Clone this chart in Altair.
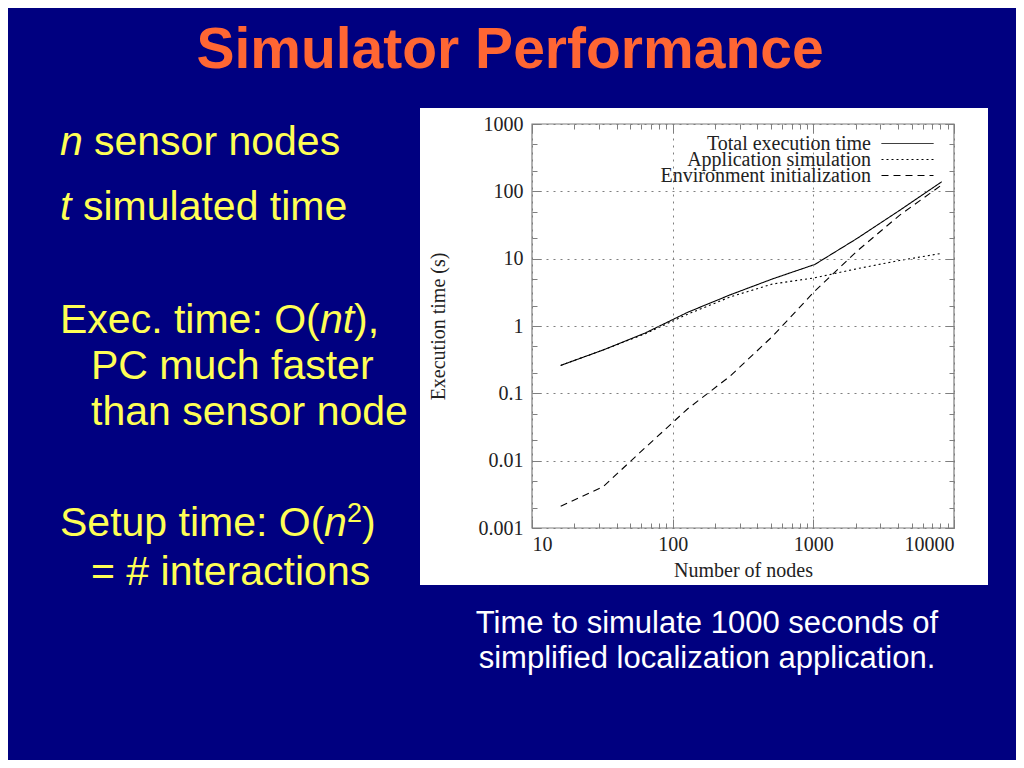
import altair as alt
import pandas as pd

# ---------------- data ----------------
nodes = [16, 32, 64, 128, 256, 512, 1024, 2048, 4096, 8192]
total_time = [0.26, 0.44, 0.79, 1.6, 2.9, 5.0, 8.2, 20, 52, 139]
app_time = [0.26, 0.44, 0.77, 1.5, 2.7, 4.2, 5.2, 7.1, 9.4, 12]
env_time = [0.0021, 0.0041, 0.0157, 0.059, 0.18, 0.7, 3.3, 13, 44, 125]
series_names = ["Total execution time", "Application simulation", "Environment initialization"]

x_major = [10, 100, 1000, 10000]
x_minor = [20, 30, 40, 50, 60, 70, 80, 90,
           200, 300, 400, 500, 600, 700, 800, 900,
           2000, 3000, 4000, 5000, 6000, 7000, 8000, 9000]
y_major = [0.001, 0.01, 0.1, 1, 10, 100, 1000]
y_minor = [0.002, 0.005, 0.02, 0.05, 0.2, 0.5, 2, 5, 20, 50, 200, 500]

slide_title = "Simulator Performance"
bullet1 = ["n", "sensor nodes"]
bullet2 = ["t", "simulated time"]
bullet3 = ["Exec. time: O(", "nt", "),", "PC much faster", "than sensor node"]
bullet4 = ["Setup time: O(", "n", "2", ")", "= # interactions"]
caption = ["Time to simulate 1000 seconds of", "simplified localization application."]

# ---------------- table ----------------
rows = []
for name, vals in zip(series_names, [total_time, app_time, env_time]):
    for n, v in zip(nodes, vals):
        rows.append({"n": n, "time": v, "series": name})
df = pd.DataFrame(rows)

W, H = 422, 404
NAVY = "#000080"
YEL = "#FFFF55"
GRAY = "#7f7f7f"
INK = "#222222"
SERIF = "Liberation Serif"
SANS = "Liberation Sans"
DASHES = [[1, 0], [2, 3], [7, 5]]
LEGEND_Y = [-7, 9, 25]


def xs():
    return alt.Scale(type="log", domain=[10, 10000], nice=False)


def ys():
    return alt.Scale(type="log", domain=[0.001, 1000], nice=False)


def tick_axis(orient, values, size, labels=False, grid=False, title=None, **kw):
    return alt.Axis(orient=orient, values=values, tickSize=size, offset=-size,
                    labels=labels, grid=grid, domain=False, title=title,
                    tickColor=GRAY, tickWidth=1, zindex=1, **kw)


common_lbl = dict(labelFont=SERIF, labelFontSize=20, labelColor=INK,
                  titleFont=SERIF, titleFontSize=20, titleColor=INK,
                  titleFontWeight="normal", format="~g")
grid_kw = dict(gridColor=GRAY, gridDash=[2, 5], gridWidth=1)

white_box = alt.Chart(pd.DataFrame({"k": [0]})).mark_rect(color="white").encode(
    x=alt.value(-112), x2=alt.value(456), y=alt.value(-16), y2=alt.value(461))

frame = alt.Chart(pd.DataFrame({"k": [0]})).mark_rect(
    fill="transparent", stroke=GRAY, strokeWidth=1.2).encode(
    x=alt.value(0), x2=alt.value("width"), y=alt.value(0), y2=alt.value("height"))

x_main_axis = tick_axis("bottom", x_major, 9, labels=True, grid=True,
                        title="Number of nodes", labelPadding=6, titlePadding=6,
                        **common_lbl, **grid_kw)
y_main_axis = tick_axis("left", y_major, 9, labels=True, grid=True,
                        title="Execution time (s)", labelPadding=9, titlePadding=30,
                        **common_lbl, **grid_kw)


def series_layer(i):
    name = series_names[i]
    return alt.Chart(df).transform_filter(alt.datum.series == name).mark_line(
        color="black", strokeWidth=1.1).encode(
        x=alt.X("n:Q", scale=xs(), axis=x_main_axis if i == 0 else None),
        y=alt.Y("time:Q", scale=ys(), axis=y_main_axis if i == 0 else None),
        strokeDash=alt.StrokeDash(
            "series:N",
            scale=alt.Scale(domain=[name], range=[DASHES[i]]),
            legend=alt.Legend(title=None, orient="none", legendX=349,
                              legendY=LEGEND_Y[i], symbolType="stroke",
                              symbolSize=2704, symbolStrokeWidth=1,
                              symbolStrokeColor="black", labelAlign="right",
                              labelOffset=alt.ExprRef("-63"), labelFont=SERIF,
                              labelFontSize=20, labelColor=INK, labelLimit=0,
                              padding=0, zindex=1)),
    )


def ghost(xaxis, yaxis):
    return alt.Chart(df).mark_point(opacity=0).encode(
        x=alt.X("n:Q", scale=xs(), axis=xaxis),
        y=alt.Y("time:Q", scale=ys(), axis=yaxis))


g_top = ghost(tick_axis("top", x_major, 9), tick_axis("right", y_major, 9))
g_minor1 = ghost(tick_axis("bottom", x_minor, 5), tick_axis("left", y_minor, 5))
g_minor2 = ghost(tick_axis("top", x_minor, 5), tick_axis("right", y_minor, 5))


def txt(s, x, y, size=41, color=YEL, style="normal", weight="normal",
        align="left", font=SANS):
    return alt.Chart(pd.DataFrame({"t": [s]})).mark_text(
        x=x, y=y, align=align, baseline="alphabetic", font=font, fontSize=size,
        fontStyle=style, fontWeight=weight, color=color).encode(text="t:N")


texts = [
    txt(slide_title, -22, -56, size=57, color="#FF6633", weight="bold", align="center"),
    txt(bullet1[0], -472, 31, style="italic"),
    txt(bullet1[1], -438, 31),
    txt(bullet2[0], -472, 96, style="italic"),
    txt(bullet2[1], -449, 96),
    txt(bullet3[0], -472, 209),
    txt(bullet3[1], -212, 209, style="italic"),
    txt(bullet3[2], -178, 209),
    txt(bullet3[3], -441, 255),
    txt(bullet3[4], -441, 301),
    txt(bullet4[0], -472, 412),
    txt(bullet4[1], -208, 412, style="italic"),
    txt(bullet4[2], -185, 398, size=27),
    txt(bullet4[3], -170, 412),
    txt(bullet4[4], -441, 461),
    txt(caption[0], 175, 509, size=31, color="white", align="center"),
    txt(caption[1], 175, 544, size=31, color="white", align="center"),
]

chart = alt.layer(
    white_box, frame, series_layer(0), series_layer(1), series_layer(2),
    g_top, g_minor1, g_minor2, *texts
).resolve_scale(
    x="independent", y="independent", strokeDash="independent"
).resolve_axis(
    x="independent", y="independent"
).resolve_legend(
    strokeDash="independent"
).properties(
    width=W, height=H,
    padding={"left": 524, "top": 116, "right": 1008 - 524 - W, "bottom": 752 - 116 - H},
    autosize=alt.AutoSizeParams(type="none"),
    background=NAVY,
).configure_view(stroke=None)

chart.save("out.html", embed_options={"renderer": "svg", "actions": False})
